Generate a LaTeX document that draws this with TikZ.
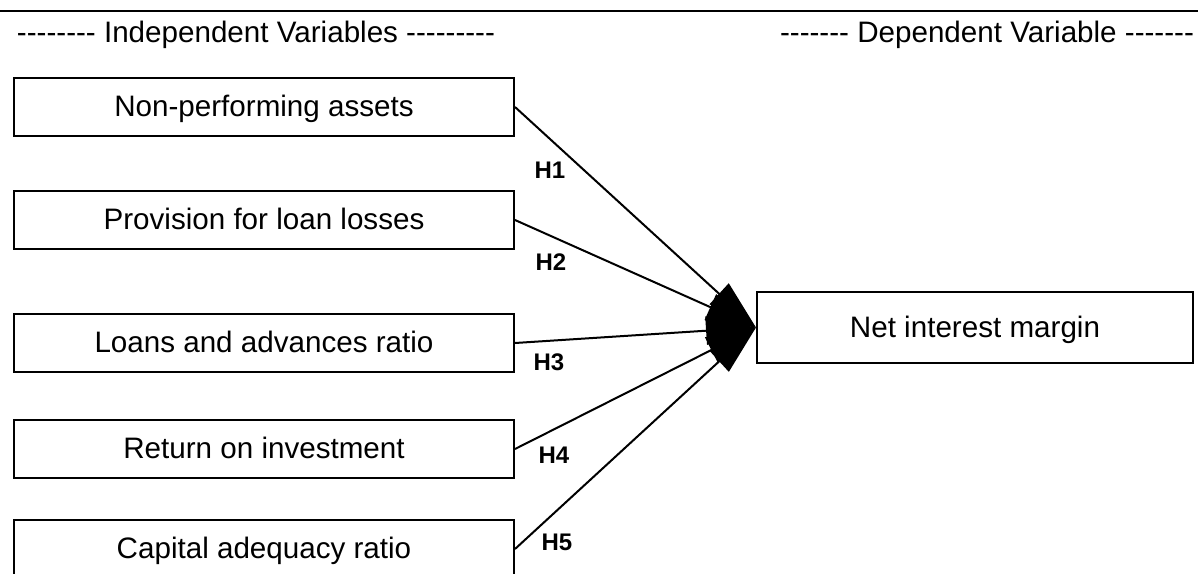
\documentclass[tikz,border=0pt]{standalone}
\usepackage{fontspec}
\setmainfont{Liberation Sans}
\usetikzlibrary{arrows.meta}
\newcommand{\dashrun}[1]{\foreach \k in {1,...,#1}{-\kern0pt}}

\begin{document}
\begin{tikzpicture}[x=0.5pt, y=-0.5pt, line width=1pt,
        var/.style={draw, rectangle, minimum width=250pt, minimum height=29pt, inner sep=0pt,
            text height=10.8pt, text depth=1.3pt, font=\fontsize{14.8}{17}\selectfont},
        head/.style={inner sep=0pt, text height=10.8pt, text depth=1.3pt,
            font=\fontsize{14.8}{17}\selectfont},
        hyp/.style={inner sep=0pt, font=\fontsize{12}{14}\selectfont\bfseries},
        link/.style={-{Triangle[length=25pt, width=14pt]}}]
        % \draw[help lines] (0,0) grid (1198,573);
        \useasboundingbox (0,0) rectangle (1198,573);

        \draw (0,11) -- (1198,11);
        \node[head] (indep) at (256,33) {\dashrun{8} Independent Variables \dashrun{9}};
        \node[head] (dep) at (987,33) {\dashrun{7} Dependent Variable \dashrun{7}};

        \node[var] (npa) at (264,107) {Non-performing assets};
        \node[var] (pll) at (264,220) {Provision for loan losses};
        \node[var] (lar) at (264,343) {Loans and advances ratio};
        \node[var] (roi) at (264,449) {Return on investment};
        \node[var] (car) at (264,549) {Capital adequacy ratio};

        \node[var, minimum width=218pt, minimum height=35.5pt] (nim) at (975,327.5) {Net interest margin};

        \draw[link] (npa.east) -- (nim.west);
        \draw[link] (pll.east) -- (nim.west);
        \draw[link] (lar.east) -- (nim.west);
        \draw[link] (roi.east) -- (nim.west);
        \draw[link] (car.east) -- (nim.west);

        \node[hyp] (h1) at (550,170) {H1};
        \node[hyp] (h2) at (551,262) {H2};
        \node[hyp] (h3) at (549,362) {H3};
        \node[hyp] (h4) at (554,455) {H4};
        \node[hyp] (h5) at (557,542) {H5};
    \end{tikzpicture}
\end{document}
